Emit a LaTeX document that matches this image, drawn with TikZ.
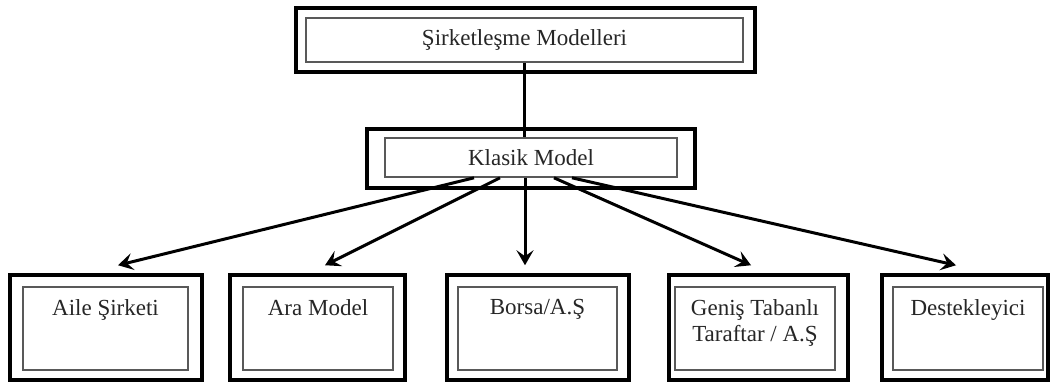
\documentclass[tikz,border=0pt]{standalone}
\usepackage{fontspec}
\setmainfont{Liberation Serif}
\usetikzlibrary{arrows.meta}

\begin{document}
\begin{tikzpicture}[x=1pt, y=-1pt,
  outerbox/.style={draw, line width=3.5pt, inner sep=0pt},
  innerbox/.style={draw=black!65, line width=1.6pt, inner sep=0pt},
  txt/.style={text=black!85, font=\fontsize{23}{26}\selectfont, inner sep=0pt, align=center},
  link/.style={line width=3pt, -{Stealth[length=15pt, width=17pt, inset=6pt]}}]

\useasboundingbox (0,0) rectangle (1051,383);

% top level
\node[outerbox, minimum width=459pt, minimum height=64pt] (top) at (525.5,40) {};
\node[innerbox, minimum width=437pt, minimum height=44pt] (topin) at (524.5,40) {};
\node[txt] (toptxt) at (topin.center) {Şirketleşme Modelleri};

% klasik model
\node[outerbox, minimum width=328pt, minimum height=59pt] (k) at (531,158.5) {};
\node[innerbox, minimum width=292pt, minimum height=39pt] (kin) at (531,157.5) {};
\node[txt] (ktxt) at (kin.center) {Klasik Model};

\draw[line width=3pt] (topin.south) -- (topin.south |- kin.north);

% bottom row
\node[outerbox, minimum width=192pt, minimum height=105pt] (b1) at (106,327.5) {};
\node[innerbox, minimum width=165pt, minimum height=83pt] (in1) at (105.5,328.5) {};
\node[txt, anchor=north] (t1) at ([yshift=-13pt]in1.north) {Aile Şirketi};

\node[outerbox, minimum width=175pt, minimum height=105pt] (b2) at (317.5,327.5) {};
\node[innerbox, minimum width=150pt, minimum height=83pt] (in2) at (318,328.5) {};
\node[txt, anchor=north] (t2) at ([yshift=-13pt]in2.north) {Ara Model};

\node[outerbox, minimum width=182pt, minimum height=105pt] (b3) at (538,327.5) {};
\node[innerbox, minimum width=159pt, minimum height=83pt] (in3) at (537.5,328.5) {};
\node[txt, anchor=north] (t3) at ([yshift=-13pt]in3.north) {Borsa/A.Ş};

\node[outerbox, minimum width=179pt, minimum height=105pt] (b4) at (758.5,327.5) {};
\node[innerbox, minimum width=160pt, minimum height=83pt] (in4) at (755,328.5) {};
\node[txt, anchor=north] (t4) at ([yshift=-13pt]in4.north) {Geniş Tabanlı\\Taraftar / A.Ş};

\node[outerbox, minimum width=166pt, minimum height=105pt] (b5) at (965,327.5) {};
\node[innerbox, minimum width=150pt, minimum height=83pt] (in5) at (968,328.5) {};
\node[txt, anchor=north] (t5) at ([yshift=-13pt]in5.north) {Destekleyici};

% arrows out of klasik model
\coordinate (s1) at ([xshift=-57pt]kin.south);
\coordinate (s2) at ([xshift=-31pt]kin.south);
\coordinate (s3) at ([xshift=-6pt]kin.south);
\coordinate (s4) at ([xshift=23pt]kin.south);
\coordinate (s5) at ([xshift=41pt]kin.south);

\draw[link] (s1) -- ([xshift=12pt, yshift=8pt]b1.north);
\draw[link] (s2) -- ([xshift=7.5pt, yshift=8pt]b2.north);
\draw[link] (s3) -- ([xshift=-13pt, yshift=8pt]b3.north);
\draw[link] (s4) -- ([xshift=-7.5pt, yshift=8pt]b4.north);
\draw[link] (s5) -- ([xshift=-9pt, yshift=8pt]b5.north);

\end{tikzpicture}
\end{document}
